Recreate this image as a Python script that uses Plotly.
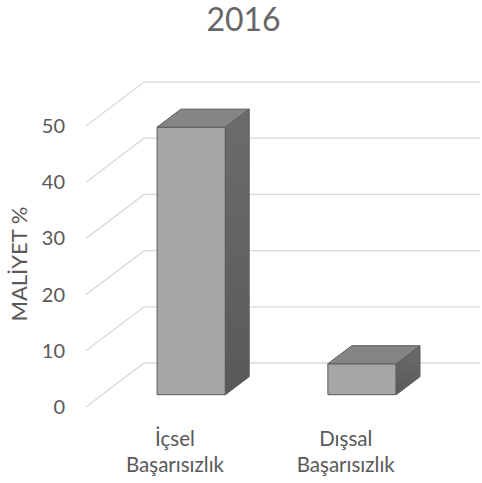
import plotly.graph_objects as go

# ---- data ----
categories = ["İçsel<br>Başarısızlık", "Dışsal<br>Başarısızlık"]
values = [47.6, 5.5]
y_ticks = [0, 10, 20, 30, 40, 50]
title_text = "2016"
y_title = "MALİYET %"

# ---- oblique 3D projection parameters (in axis units) ----
X_MIN, X_MAX = -0.521, 1.786
Y_MIN, Y_MAX = -2.31, 59.97
DX, DY = 0.34, 7.83          # depth offset of the whole floor/wall
F = 0.28                     # depth of bar front face (fraction)
BD = 0.41                    # bar depth (fraction)
BW = 0.40                    # bar width

FONT = "Lato"
TXT = "#595959"
GRID = "#d9d9d9"
EDGE = "#5a5a5a"

fig = go.Figure()

# side wall diagonals + back wall horizontals (behind everything)
shapes = []
for v in y_ticks:
    shapes.append(dict(type="path", xref="x", yref="y", layer="below",
                       path=f"M {X_MIN},{v} L {X_MIN + DX},{v + DY} L {X_MAX},{v + DY}",
                       line=dict(color=GRID, width=1.3)))

xs = list(range(len(categories)))
fx = [i + F * DX for i in xs]
base = F * DY

# side faces and top faces
for cx, val in zip(fx, values):
    x0, x1 = cx - BW / 2, cx + BW / 2
    top = base + val
    ddx, ddy = BD * DX, BD * DY
    fig.add_trace(go.Scatter(
        x=[x1, x1, x1 + ddx, x1 + ddx, x1],
        y=[base, top, top + ddy, base + ddy, base],
        mode="lines", fill="toself",
        fillgradient=dict(type="vertical",
                          colorscale=[[0, "#595959"], [1, "#6c6c6c"]]),
        line=dict(color=EDGE, width=1), hoverinfo="skip", showlegend=False))
    fig.add_trace(go.Scatter(
        x=[x0, x1, x1 + ddx, x0 + ddx, x0],
        y=[top, top, top + ddy, top + ddy, top],
        mode="lines", fill="toself", fillcolor="#858585",
        line=dict(color=EDGE, width=1), hoverinfo="skip", showlegend=False))

# front faces
fig.add_trace(go.Bar(
    x=fx, y=values, base=[base] * len(values), width=BW,
    marker=dict(color="#a6a6a6", line=dict(color=EDGE, width=1)),
    showlegend=False, hoverinfo="skip"))

fig.update_layout(
    width=482, height=483,
    margin=dict(l=86, r=2, t=70, b=63),
    paper_bgcolor="white", plot_bgcolor="white",
    font=dict(family=FONT, color=TXT, size=20),
    shapes=shapes,
    title=dict(text=title_text, x=243.5 / 482, xanchor="center",
               yref="container", y=1 - 20 / 483, yanchor="middle",
               font=dict(family=FONT, size=32, color="#666666")),
    xaxis=dict(range=[X_MIN, X_MAX], tickvals=xs, ticktext=categories,
               showgrid=False, zeroline=False, showline=False, automargin=False,
               ticks="", tickfont=dict(size=20.5, color=TXT),
               ticklabelstandoff=4),
    yaxis=dict(range=[Y_MIN, Y_MAX], tickvals=y_ticks, automargin=False,
               showgrid=False, zeroline=False, showline=False,
               ticks="", tickfont=dict(size=20, color=TXT),
               ticklabelstandoff=20),
    annotations=[dict(text=y_title, textangle=-90, xref="paper", yref="paper",
                      x=(17.5 - 86) / 394, y=(420 - 264) / 350,
                      xanchor="center", yanchor="middle", showarrow=False,
                      font=dict(family=FONT, size=22, color=TXT))],
)

fig.write_html("out.html", config={"displayModeBar": False},
               post_script="document.body.style.margin='0';")
